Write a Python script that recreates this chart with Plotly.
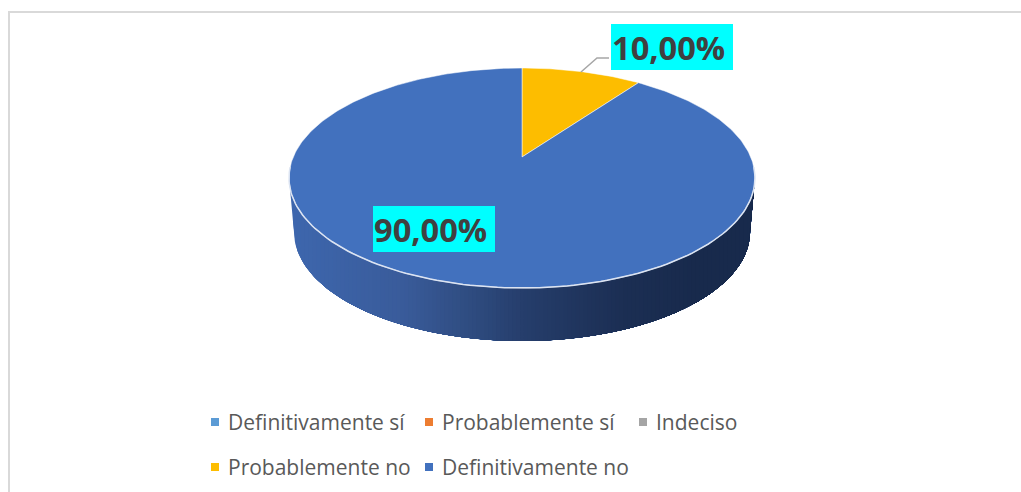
import numpy as np
import plotly.graph_objects as go

categories = ["Definitivamente sí", "Probablemente sí", "Indeciso", "Probablemente no", "Definitivamente no"]
values = [0, 0, 0, 10, 90]
colors = ["#5B9BD5", "#ED7D31", "#A5A5A5", "#FDBD00", "#4271BE"]
value_labels = ["10,00%", "90,00%"]

W, H = 1021, 492
CX, K = 522.0, 228.7
PERSP, YA, YB = 0.1909, -76.0, 157.0
TOP_CY, TOP_RX, TOP_RY = 178.0, 233.0, 110.0
BOT_CY, BOT_RX, BOT_RY = 232.0, 228.0, 109.0


def project(theta):
    s, v = np.sin(theta), np.cos(theta)
    d = 1 + PERSP * v
    return CX + K * s / d, (YA * v + YB) / d


def top_lower(x):
    return TOP_CY + TOP_RY * np.sqrt(np.clip(1 - ((x - CX) / TOP_RX) ** 2, 0, 1))


def bottom_edge(x):
    dx = np.abs(x - CX)
    inner = BOT_CY + BOT_RY * np.sqrt(np.clip(1 - (dx / BOT_RX) ** 2, 0, 1))
    outer = BOT_CY - (dx - BOT_RX) / (TOP_RX - BOT_RX) * (BOT_CY - TOP_CY)
    return np.where(dx <= BOT_RX, inner, outer)


stops_x = [289, 400, 470, 522, 620, 700, 755]
stops_c = [(62, 103, 174), (58, 92, 155), (47, 76, 128), (38, 62, 108), (28, 47, 84), (24, 42, 76), (24, 42, 76)]


def wall_color(x):
    return "rgb(%d,%d,%d)" % tuple(int(np.interp(x, stops_x, [c[i] for c in stops_c])) for i in range(3))


fig = go.Figure()

# side wall: overlapping strips painted left to right give a seamless shading
edges = np.linspace(CX - TOP_RX, CX + TOP_RX, 118)
for x0 in edges[:-1]:
    xs = np.linspace(x0, CX + TOP_RX, 160)
    fig.add_trace(go.Scatter(
        x=np.r_[xs, xs[::-1]], y=np.r_[top_lower(xs) - 2, bottom_edge(xs[::-1])],
        mode="lines", fill="toself", fillcolor=wall_color(x0),
        line=dict(width=0), hoverinfo="skip", showlegend=False))

# top face: slices from the values, clockwise from twelve o'clock
total = sum(values)
start = 0.0
for name, val, col in zip(categories, values, colors):
    if val > 0:
        th = np.linspace(start, start + 2 * np.pi * val / total, max(int(val * 4), 30))
        px, py = project(th)
        fig.add_trace(go.Scatter(
            x=np.r_[CX, px, CX], y=np.r_[YB, py, YB], mode="lines", fill="toself",
            fillcolor=col, line=dict(color="rgba(255,255,255,0.5)", width=1),
            name=name, hoverinfo="name", showlegend=False))
    start += 2 * np.pi * val / total

# bright rim on the front edge
rim = np.linspace(np.pi * 0.53, np.pi * 1.47, 120)
rx_, ry_ = project(rim)
fig.add_trace(go.Scatter(x=rx_, y=ry_, mode="lines", line=dict(color="#DCE4F2", width=1.5),
                         hoverinfo="skip", showlegend=False))

# legend rows
leg_x = [215, 429, 643, 215, 429]
leg_y = [422, 422, 422, 467, 467]
for name, col, lx, ly in zip(categories, colors, leg_x, leg_y):
    fig.add_trace(go.Scatter(
        x=[lx], y=[ly], mode="markers", marker=dict(symbol="square", size=8, color=col),
        hoverinfo="skip", showlegend=False))
    fig.add_annotation(x=lx + 11, y=ly, text=name, showarrow=False, xanchor="left", yanchor="middle",
                       font=dict(family="Open Sans", size=21, color="#595959"))

# data labels
label_boxes = [(611, 733, 24, 70), (373, 495, 206, 252)]
shapes = []
for txt, (x0, x1, y0, y1) in zip(value_labels, label_boxes):
    shapes.append(dict(type="rect", x0=x0, x1=x1, y0=y0, y1=y1, fillcolor="#00FFFF", line_width=0, layer="above"))
    fig.add_annotation(x=x0 - 1, y=(y0 + y1) / 2, text=f"<b>{txt}</b>", showarrow=False,
                       xanchor="left", yanchor="middle",
                       font=dict(family="Open Sans", size=32.6, color="#404040"))

shapes.append(dict(type="path", path="M581,72 L597,58 L609,58", line=dict(color="#A6A6A6", width=1.5), layer="above"))
shapes.append(dict(type="path", path="M1021,12 L9,12 L9,492", line=dict(color="#D9D9D9", width=2), layer="above"))

fig.update_layout(
    width=W, height=H, margin=dict(l=0, r=0, t=0, b=0), paper_bgcolor="white", plot_bgcolor="white",
    xaxis=dict(range=[0, W], visible=False, fixedrange=True),
    yaxis=dict(range=[H, 0], visible=False, fixedrange=True),
    shapes=shapes, showlegend=False)

fig.write_html("out.html", config={"displayModeBar": False},
               post_script="document.body.style.margin='0';document.body.style.overflow='hidden';")
